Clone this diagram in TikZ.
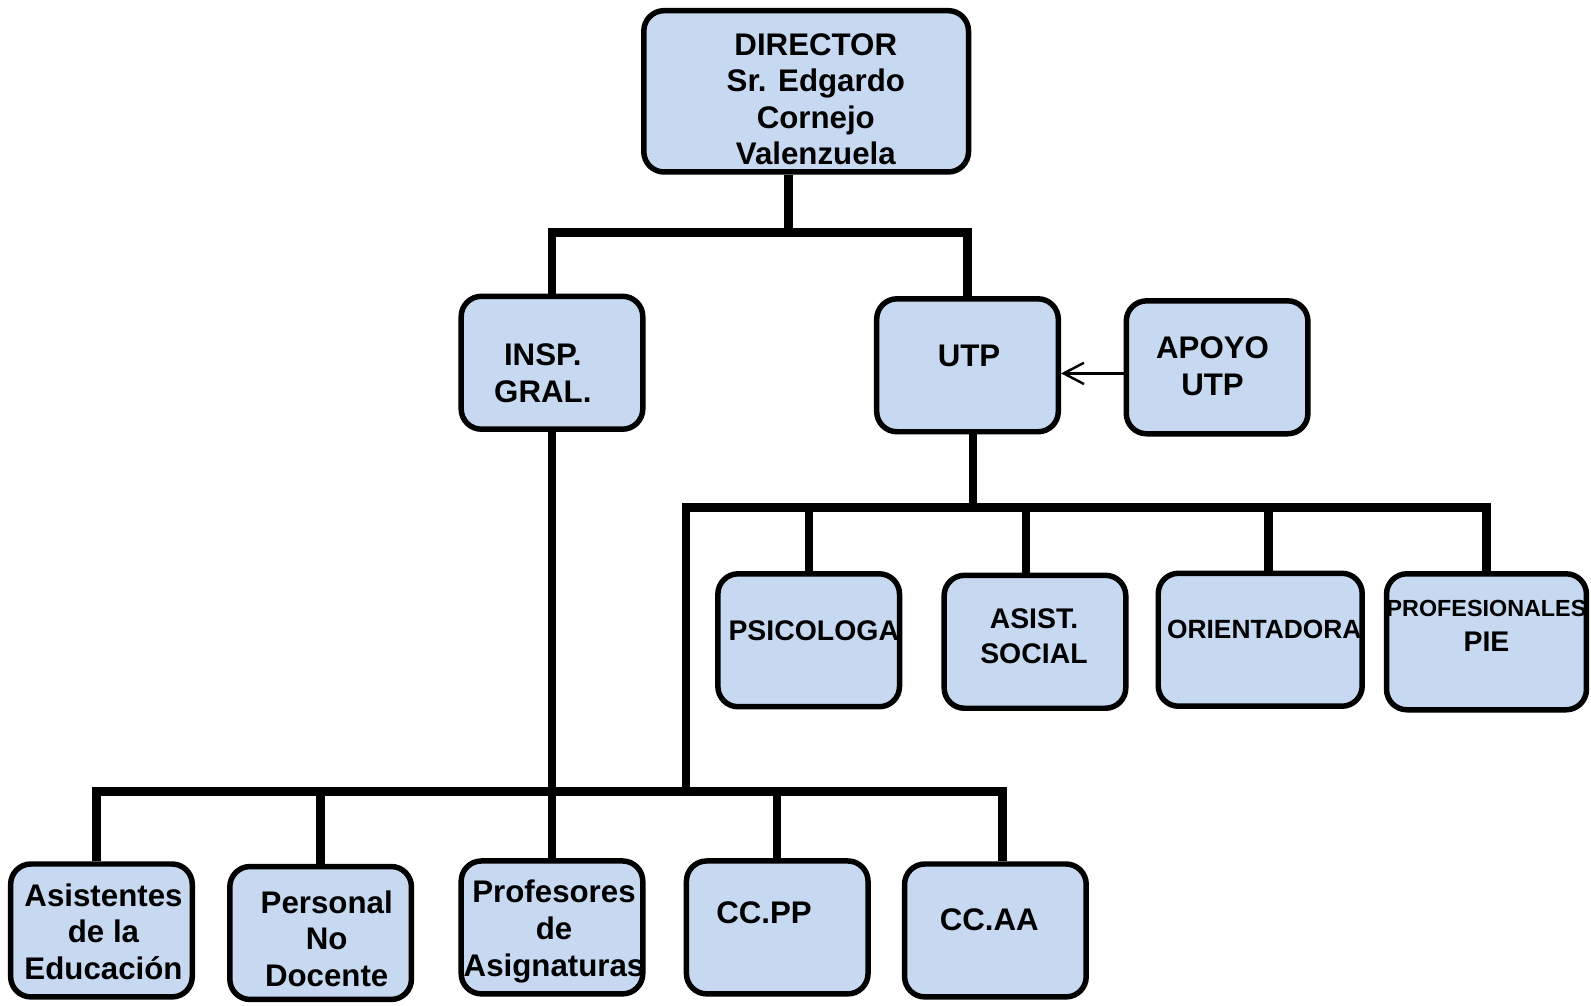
\documentclass[tikz,border=0pt]{standalone}
\usepackage{fontspec}
\setmainfont{Liberation Sans}
\usetikzlibrary{arrows.meta}
\definecolor{boxblue}{RGB}{198,217,241}
\tikzset{
  box/.style={draw, line width=2.7pt, fill=boxblue, rounded corners=10pt, minimum width=89.5pt, minimum height=65.5pt},
  lbl/.style={align=center, inner sep=0pt, font=\fontsize{15.4}{18}\selectfont\bfseries},
  midlbl/.style={lbl, font=\fontsize{14}{17}\selectfont\bfseries},
  link/.style={line width=4.1pt},
}
\begin{document}
\begin{tikzpicture}[x=0.5pt,y=-0.5pt]
\useasboundingbox (0,0) rectangle (1568,990.5);
% boxes
\node[box, minimum width=160pt, minimum height=79.5pt] (dir) at (794.5,90) {};
\node[box] (insp) at (544,357.5) {};
\node[box] (utp) at (953.5,360) {};
\node[box] (apoyo) at (1199.5,362) {};
\node[box] (psic) at (797,631) {};
\node[box] (asist) at (1020,632.5) {};
\node[box, minimum width=100.5pt] (orient) at (1242,630.5) {};
\node[box, minimum width=98.5pt, minimum height=67pt] (prof) at (1465,632.5) {};
\node[box] (asis) at (100,917) {};
\node[box] (pers) at (316,919.5) {};
\node[box] (profs) at (544,914) {};
\node[box] (ccpp) at (766,914) {};
\node[box] (ccaa) at (981,917) {};
% texts
\node[lbl] (dirT) at (804,98) {DIRECTOR\\Sr. Edgardo\\Cornejo\\Valenzuela};
\node[lbl] (inspT) at (535,368) {INSP.\\GRAL.};
\node[lbl] (utpT) at (955,351) {UTP};
\node[lbl] (apoyoT) at (1195,361) {APOYO\\UTP};
\node[midlbl] (psicT) at (802,622) {PSICOLOGA};
\node[midlbl] (asistT) at (1019,627) {ASIST.\\SOCIAL};
\node[lbl, font=\fontsize{13}{16}\selectfont\bfseries] (orientT) at (1246,620) {ORIENTADORA};
\node[midlbl] (profT) at (1465,617) {{\fontsize{11.5}{14}\selectfont PROFESIONALES}\\PIE};
\node[lbl] (asisT) at (102,918) {Asistentes\\de la\\Educación};
\node[lbl] (persT) at (322,925) {Personal\\No\\Docente};
\node[lbl] (profsT) at (546,918) {Profesores\\de\\Asignaturas};
\node[lbl] (ccppT) at (753,900) {CC.PP};
\node[lbl] (ccaaT) at (975,906) {CC.AA};
% connectors
\coordinate (dj) at (777,229);
\coordinate (uj) at (959,500);
\coordinate (sj) at (676,500);
\coordinate (bus) at (93,780);
\draw[link] (dir.south -| dj) -- (dj);
\draw[link] (insp.north) |- (dj) -| (utp.north);
\draw[link] (utp.south -| uj) -- (uj);
\draw[link] (sj |- bus) -- (sj) -- (prof.north |- sj) -- (prof.north);
\draw[link] (psic.north) -- (psic.north |- sj);
\draw[link] ([xshift=-4.5pt]asist.north) -- ([xshift=-4.5pt]asist.north |- sj);
\draw[link] ([xshift=4pt]orient.north) -- ([xshift=4pt]orient.north |- sj);
\draw[link] (insp.south) -- (insp.south |- bus);
\draw[link] ([xshift=-2.5pt]asis.north) |- ([xshift=3.5pt]ccaa.north |- bus) -- ([xshift=3.5pt]ccaa.north);
\foreach \n in {pers,profs,ccpp}
  \draw[link] (\n.north) -- (\n.north |- bus);
\draw[-{Straight Barb[length=10pt,width=10.5pt]}, line width=1.2pt] ([yshift=-3pt]apoyo.west) -- ([yshift=-3pt]apoyo.west -| utp.east);
\end{tikzpicture}
\end{document}
